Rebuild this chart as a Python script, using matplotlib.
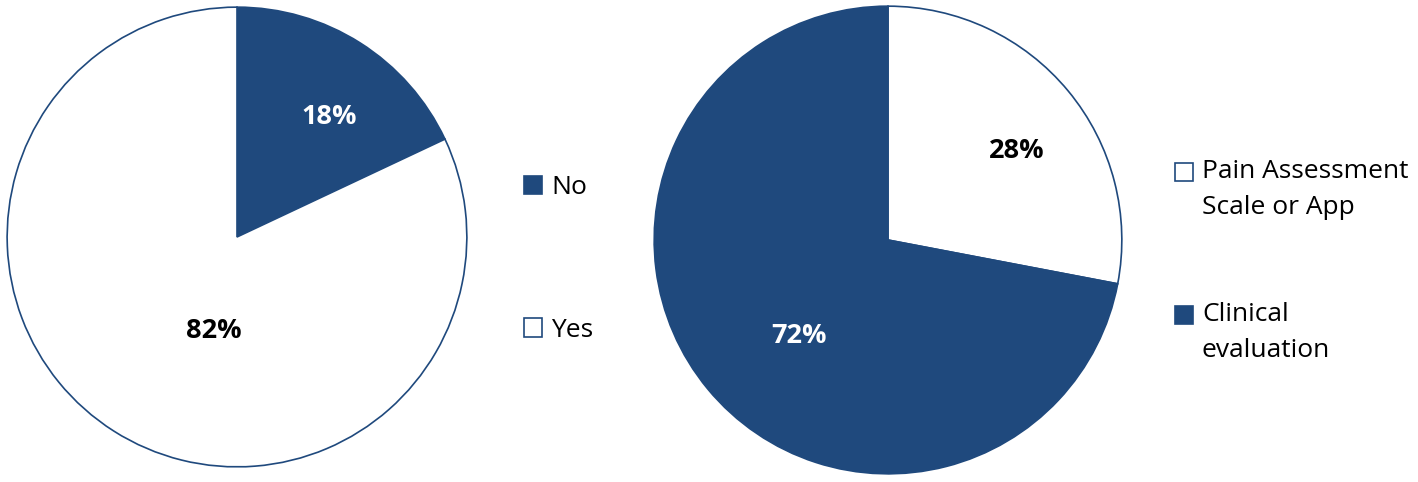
import matplotlib.pyplot as plt
from matplotlib.patches import Patch

plt.rcParams['font.family'] = ['Open Sans', 'DejaVu Sans']

NAVY = "#1F497D"

# left pie: "No" / "Yes"
left_labels = ["No", "Yes"]
left_values = [18, 82]
left_colors = [NAVY, "white"]
left_text_colors = ["white", "black"]

# right pie: assessment method
right_labels = ["Pain Assessment\nScale or App", "Clinical\nevaluation"]
right_values = [28, 72]
right_colors = ["white", NAVY]
right_text_colors = ["black", "white"]

# label anchors inside the pie (unit radius), as Excel placed them
left_label_xy = [(0.40, 0.52), (-0.10, -0.41)]
right_label_xy = [(0.55, 0.38), (-0.38, -0.41)]

W, H = 1418, 482
fig = plt.figure(figsize=(W / 100, H / 100), dpi=100)


def draw_pie(rect, values, colors, text_colors, label_xy):
    ax = fig.add_axes(rect)
    ax.pie(values, colors=colors, startangle=90, counterclock=False,
           wedgeprops=dict(edgecolor=NAVY, linewidth=1.2))
    for v, c, (x, y) in zip(values, text_colors, label_xy):
        ax.text(x, y, f"{v}%", color=c, fontsize=19.5, fontweight="bold",
                ha="center", va="center")
    ax.set_xlim(-1.005, 1.005)
    ax.set_ylim(-1.005, 1.005)
    ax.set_aspect("equal")
    ax.axis("off")
    return ax


draw_pie([6 / W, (H - 468) / H, 462 / W, 462 / H],
         left_values, left_colors, left_text_colors, left_label_xy)
draw_pie([653 / W, (H - 475) / H, 470 / W, 470 / H],
         right_values, right_colors, right_text_colors, right_label_xy)


def handles(colors):
    return [Patch(facecolor=c, edgecolor=NAVY, linewidth=1.2) for c in colors]


leg_kw = dict(loc="center left", frameon=False, fontsize=19,
              handlelength=0.68, handleheight=0.68, handletextpad=0.35)
fig.legend(handles(left_colors), left_labels,
           bbox_to_anchor=(500 / W, 1 - 259 / H), labelspacing=4.45, **leg_kw)
leg = fig.legend(handles(right_colors), right_labels,
                 bbox_to_anchor=(1151 / W, 1 - 261 / H), labelspacing=3.1,
                 **leg_kw)
for t in leg.get_texts():
    t.set_linespacing(1.58)

# Excel puts the swatch beside the first line of a wrapped label,
# matplotlib centres it on the whole block -> lift it by half the extra height
fig.canvas.draw()
renderer = fig.canvas.get_renderer()
for t, h in zip(leg.get_texts(), leg.legend_handles):
    first = fig.text(0, 0, t.get_text().split("\n")[0],
                     fontproperties=t.get_fontproperties())
    extra = t.get_window_extent(renderer).height - first.get_window_extent(renderer).height
    first.remove()
    h.set_y(h.get_y() + extra / 2 * 72 / fig.dpi)

fig.savefig("out.png", dpi=100, facecolor="white")
